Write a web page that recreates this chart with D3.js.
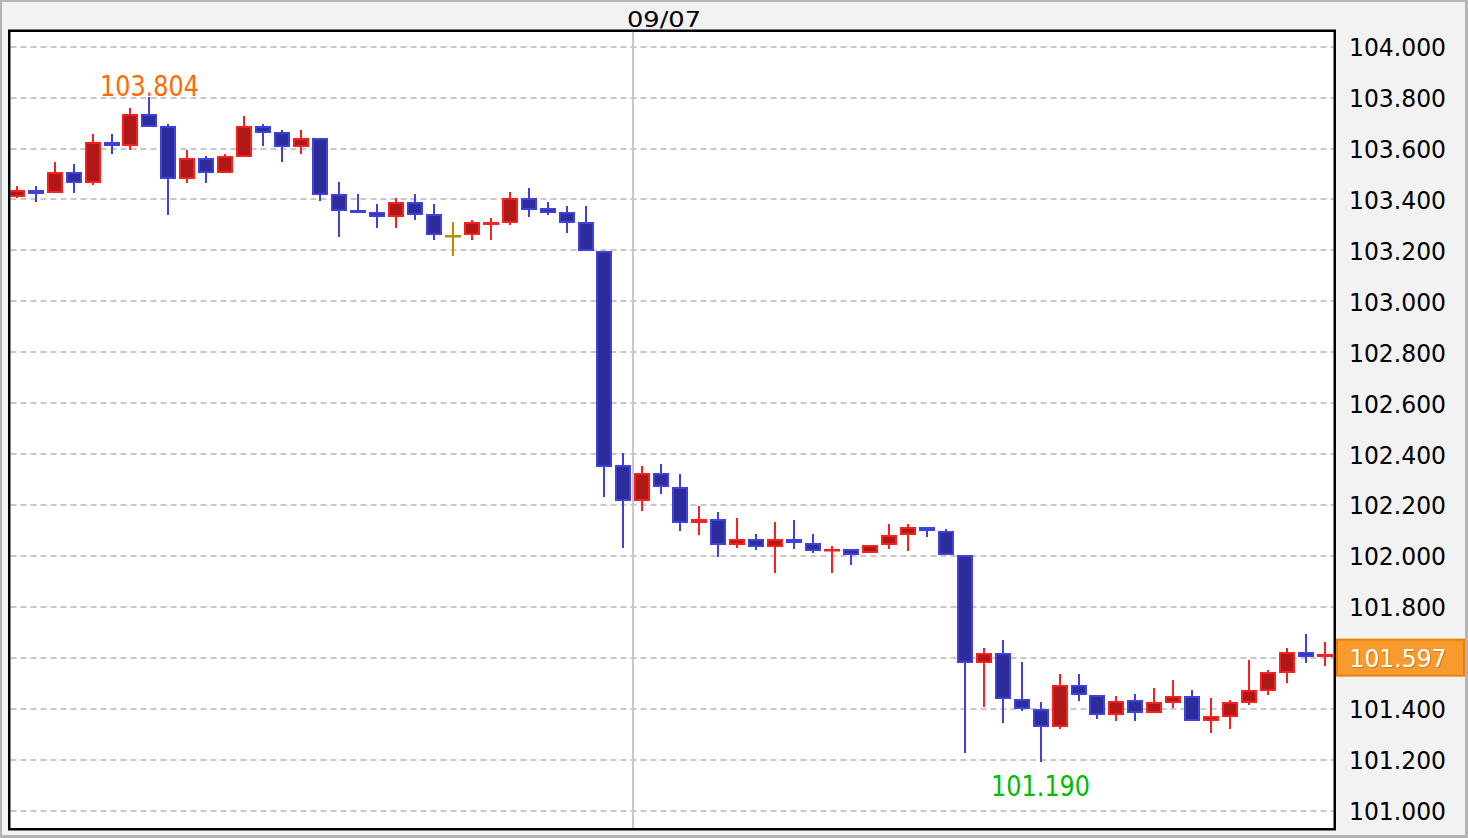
<!DOCTYPE html>
<html><head><meta charset="utf-8">
<script src="https://cdn.jsdelivr.net/npm/d3@7"></script>
<style>html,body{margin:0;padding:0;background:#f2f2f2;overflow:hidden} svg{display:block}</style>
</head><body><svg id="c" width="1468" height="838"></svg>
<script>
// ---- data (one entry per candle, index 0..69) ----
const opens  = [103.409,103.437,103.424,103.508,103.464,103.626,103.610,103.736,103.689,103.479,
                103.563,103.503,103.566,103.689,103.665,103.605,103.641,103.422,103.359,103.351,
                103.330,103.390,103.343,103.262,103.259,103.299,103.306,103.406,103.367,103.351,
                103.312,103.199,102.358,102.215,102.327,102.272,102.128,102.146,102.042,102.068,
                102.034,102.068,102.052,102.018,102.029,102.011,102.042,102.081,102.115,102.099,
                102.005,101.579,101.620,101.440,101.400,101.327,101.495,101.455,101.374,101.434,
                101.382,101.422,101.450,101.351,101.367,101.422,101.469,101.539,101.623,101.603];
const highs  = [103.453,103.453,103.547,103.539,103.657,103.657,103.759,103.804,103.696,103.594,
                103.571,103.579,103.728,103.696,103.673,103.673,103.641,103.469,103.422,103.382,
                103.406,103.422,103.382,103.312,103.319,103.327,103.429,103.445,103.390,103.374,
                103.374,103.199,102.406,102.353,102.361,102.322,102.196,102.173,102.149,102.086,
                102.134,102.141,102.086,102.039,102.029,102.044,102.126,102.126,102.115,102.107,
                102.005,101.639,101.670,101.584,101.427,101.537,101.537,101.455,101.450,101.458,
                101.482,101.513,101.474,101.442,101.434,101.592,101.552,101.639,101.694,101.662];
const lows   = [103.406,103.390,103.424,103.424,103.456,103.579,103.594,103.683,103.338,103.464,
                103.464,103.503,103.566,103.610,103.547,103.579,103.393,103.252,103.346,103.288,
                103.288,103.319,103.241,103.178,103.241,103.241,103.299,103.330,103.338,103.267,
                103.197,102.230,102.031,102.176,102.243,102.097,102.081,101.995,102.031,102.024,
                101.932,102.026,102.011,101.932,101.963,102.011,102.026,102.018,102.073,102.003,
                101.225,101.406,101.343,101.390,101.190,101.319,101.429,101.359,101.351,101.351,
                101.382,101.403,101.351,101.304,101.319,101.414,101.453,101.500,101.579,101.568];
const closes = [103.437,103.422,103.508,103.464,103.626,103.612,103.736,103.683,103.479,103.563,
                103.503,103.571,103.689,103.660,103.605,103.641,103.416,103.354,103.346,103.330,
                103.390,103.338,103.259,103.262,103.312,103.312,103.406,103.359,103.346,103.306,
                103.197,102.348,102.215,102.327,102.270,102.128,102.146,102.042,102.068,102.034,
                102.068,102.050,102.018,102.029,102.005,102.044,102.084,102.115,102.097,102.003,
                101.579,101.620,101.437,101.398,101.327,101.495,101.453,101.374,101.432,101.382,
                101.427,101.450,101.351,101.372,101.427,101.474,101.544,101.623,101.602,101.617];
const tickValues = [101.0,101.2,101.4,101.6,101.8,102.0,102.2,102.4,102.6,102.8,103.0,103.2,103.4,103.6,103.8,104.0];
const sessionLabel = "09/07";
const sessionIndex = 32.5;
const lastPrice = 101.597;
const maxIndex = 7, maxValue = 103.804;
const minIndex = 54, minValue = 101.190;

// ---- layout ----
const W = 1468, H = 838;
const plot = {l: 9.25, t: 30.75, r: 1334.75, b: 829.25};
const x = d3.scaleLinear().domain([0, opens.length - 1]).range([16.7, 1325]);
const y = d3.scaleLinear().domain([101, 104]).range([810.7, 46.7]);
const FONT = "'DejaVu Sans', Verdana, sans-serif";

const svg = d3.select('#c');
svg.append('rect').attr('width', W).attr('height', H).attr('fill', '#b4b4b4');
svg.append('rect').attr('x', 2).attr('y', 2).attr('width', W - 5).attr('height', H - 5).attr('fill', '#f2f2f2');

svg.append('rect').attr('x', plot.l).attr('y', plot.t)
  .attr('width', plot.r - plot.l).attr('height', plot.b - plot.t)
  .attr('fill', '#fff');

svg.append('defs').append('clipPath').attr('id', 'clip')
  .append('rect').attr('x', plot.l + 1.25).attr('y', plot.t + 1.25)
  .attr('width', plot.r - plot.l - 2.5).attr('height', plot.b - plot.t - 2.5);

// grid
svg.append('g').selectAll('line').data(tickValues).join('line')
  .attr('x1', plot.l + 1.25).attr('x2', plot.r - 1.25)
  .attr('y1', d => Math.round(y(d))).attr('y2', d => Math.round(y(d)))
  .attr('stroke', '#c8c8c8').attr('stroke-width', 2).attr('stroke-dasharray', '6,4');

// session separator
const sx = Math.round(x(sessionIndex));
svg.append('line').attr('x1', sx).attr('x2', sx).attr('y1', plot.t).attr('y2', plot.b)
  .attr('stroke', '#c8c8c8').attr('stroke-width', 2);
svg.append('text').attr('x', sx - 6).attr('y', 27)
  .attr('font-family', FONT).attr('font-size', 22).attr('fill', '#000')
  .attr('textLength', 74).attr('lengthAdjust', 'spacingAndGlyphs')
  .text(sessionLabel);

// candles
const data = opens.map((o, i) => ({i, o, h: highs[i], l: lows[i], c: closes[i]}));
const col = d => d.c > d.o ? {s: '#fa2020', f: '#b01818'} : d.c < d.o ? {s: '#4040dc', f: '#2c2c9a'} : {s: '#b38f00', f: '#b38f00'};
const g = svg.append('g').attr('clip-path', 'url(#clip)');
g.selectAll('line.w').data(data).join('line').attr('class', 'w')
  .attr('x1', d => Math.round(x(d.i))).attr('x2', d => Math.round(x(d.i)))
  .attr('y1', d => Math.round(y(d.h))).attr('y2', d => Math.round(y(d.l)))
  .attr('stroke', d => col(d).s).attr('stroke-width', 2);
g.selectAll('rect.b').data(data).join('rect').attr('class', 'b')
  .attr('x', d => Math.round(x(d.i)) - 7).attr('width', 14)
  .attr('y', d => Math.round(y(Math.max(d.o, d.c))) + 1)
  .attr('height', d => Math.max(Math.round(y(Math.min(d.o, d.c))) - Math.round(y(Math.max(d.o, d.c))) - 2, 0.5))
  .attr('fill', d => col(d).f).attr('stroke', d => col(d).s).attr('stroke-width', 2);

// frame
svg.append('rect').attr('x', plot.l).attr('y', plot.t)
  .attr('width', plot.r - plot.l).attr('height', plot.b - plot.t)
  .attr('fill', 'none').attr('stroke', '#000').attr('stroke-width', 2.5);

// max / min labels
svg.append('text').attr('x', x(maxIndex)).attr('y', y(maxValue) - 0.5)
  .attr('text-anchor', 'middle').attr('font-family', FONT).attr('font-size', 28)
  .attr('textLength', 99).attr('lengthAdjust', 'spacingAndGlyphs')
  .attr('fill', '#ff6a00').text(d3.format('.3f')(maxValue));
svg.append('text').attr('x', x(minIndex)).attr('y', y(minValue) + 34)
  .attr('text-anchor', 'middle').attr('font-family', FONT).attr('font-size', 28)
  .attr('textLength', 99).attr('lengthAdjust', 'spacingAndGlyphs')
  .attr('fill', '#00bb00').text(d3.format('.3f')(minValue));

// y axis
const ax = svg.append('g').attr('transform', 'translate(1349,0)')
  .call(d3.axisRight(y).tickValues(tickValues).tickSize(0).tickPadding(0).tickFormat(d3.format('.3f')));
ax.select('.domain').remove();
ax.selectAll('text').attr('font-family', FONT).attr('font-size', 24).attr('fill', '#000')
  .attr('dy', '0.37em').attr('textLength', 97).attr('lengthAdjust', 'spacingAndGlyphs');

// last price tag
const ly = y(lastPrice);
svg.append('rect').attr('x', 1337).attr('y', ly - 19).attr('width', 127).attr('height', 36)
  .attr('fill', '#f89b2e').attr('stroke', '#ee7f00').attr('stroke-width', 2);
svg.append('text').attr('x', 1350.5).attr('y', ly + 9.8)
  .attr('font-family', FONT).attr('font-size', 24).attr('fill', '#c8690f').attr('opacity', 0.7)
  .attr('textLength', 97).attr('lengthAdjust', 'spacingAndGlyphs').text(d3.format('.3f')(lastPrice));
svg.append('text').attr('x', 1349.5).attr('y', ly + 8.8)
  .attr('font-family', FONT).attr('font-size', 24).attr('fill', '#fff')
  .attr('textLength', 97).attr('lengthAdjust', 'spacingAndGlyphs').text(d3.format('.3f')(lastPrice));
</script></body></html>
